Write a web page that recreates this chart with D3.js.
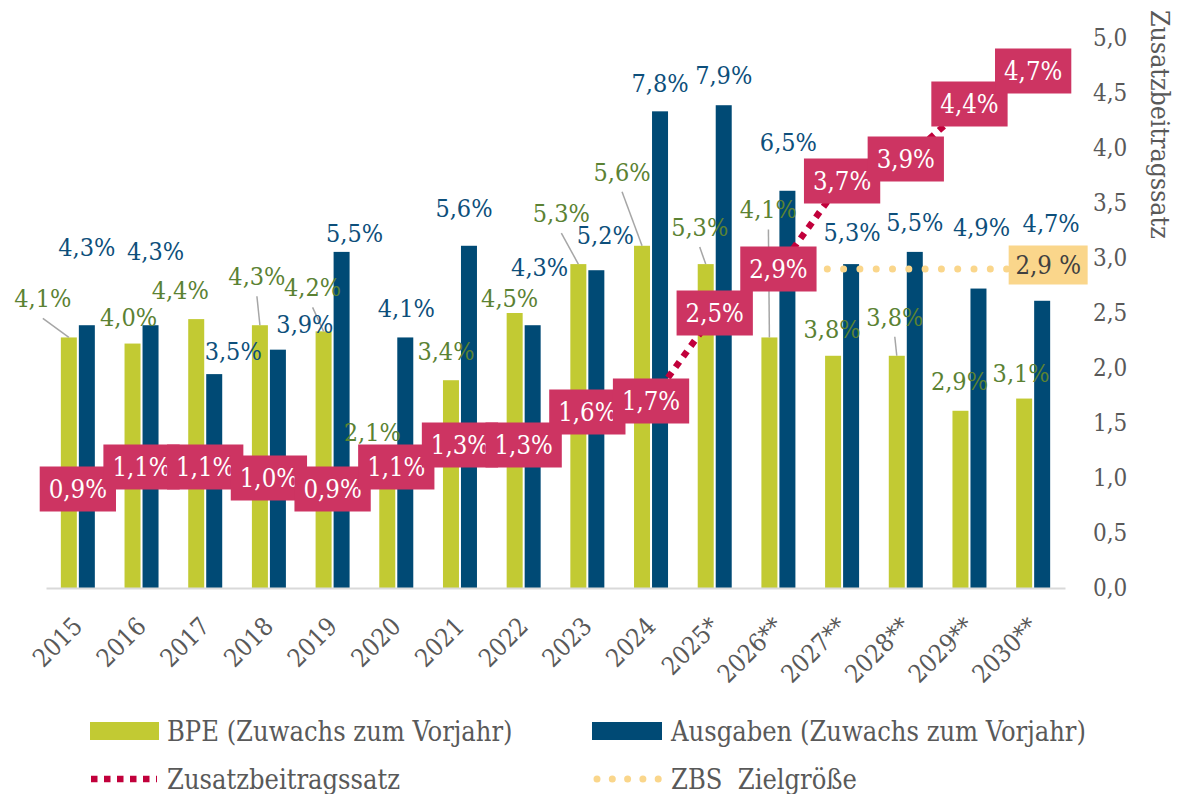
<!DOCTYPE html>
<html>
<head>
<meta charset="utf-8">
<script src="https://cdnjs.cloudflare.com/ajax/libs/d3/7.8.5/d3.min.js"></script>
<style>
  body { margin: 0; background: #ffffff; }
</style>
</head>
<body>
<main></main>
<script>
//the numbers
const years = ["2015","2016","2017","2018","2019","2020","2021","2022","2023","2024",
               "2025*","2026**","2027**","2028**","2029**","2030**"];
const bpe      = [4.1,4.0,4.4,4.3,4.2,2.1,3.4,4.5,5.3,5.6,5.3,4.1,3.8,3.8,2.9,3.1];
const ausgaben = [4.3,4.3,3.5,3.9,5.5,4.1,5.6,4.3,5.2,7.8,7.9,6.5,5.3,5.5,4.9,4.7];
const zbs      = [0.9,1.1,1.1,1.0,0.9,1.1,1.3,1.3,1.6,1.7,2.5,2.9,3.7,3.9,4.4,4.7];
const zielYears = ["2026**","2027**","2028**","2029**","2030**"];
const ziel      = [2.9,2.9,2.9,2.9,2.9];
const rightTicks = [0,0.5,1,1.5,2,2.5,3,3.5,4,4.5,5];

//hand-placed label nudges (dx, dy from the bar top), like the moved excel labels
const bpeShift = [[-26,-39],[-4,-27],[-16,-29],[-3,-49],[-11,-44],[-15,-28],[-5,-29],[-5,-15],
                  [-17,-51],[-20,-74],[-6,-37],[-1,-128],[-1,-27],[-2,-39],[-1,-30],[-3,-26]];
const ausShift = [[0,-78],[5,-74],[19,-23],[27,-26],[13,-19],[1,-29],[-5,-38],[7,-58],
                  [9,-35],[0,-28],[0,-30],[1,-49],[1,-32],[0,-30],[3,-62],[9,-78]];
const bpeLeader = [0,3,4,8,9,10,11,13];

const green = "#c2ca33", blue = "#004a75", pink = "#cd3462", red = "#c1003b", gold = "#fad68b";
const greenText = "#5b8233", blueText = "#0d4f7b", grey = "#595959";

const pct = v => v.toFixed(1).replace(".", ",") + "%";

const body = d3.select("main");
const svg = body.append("svg")
                .attr("width", 1184)
                .attr("height", 794);

//the original font is narrower than DejaVu Serif, try the condensed cut first
const probeW = fam => {
    const t = svg.append("text").style("font-family", fam).style("font-size", "100px").text("2015 4,3%");
    const w = t.node().getComputedTextLength();
    t.remove();
    return w;
};
let fam = '"DejaVu Serif Condensed", "DejaVu Serif"';
let k = 1;
if (probeW(fam) > 0.95 * probeW('"DejaVu Serif"')) {
    fam = '"Liberation Serif"';
    k = 1.14;
}
svg.style("font-family", fam);
const fs = n => (n * k) + "px";

const x = d3.scaleBand()
            .domain(years)
            .range([46, 1065]);
const bw = x.bandwidth();
const cx = d => x(d) + bw / 2;

//bars sit on a hidden 0-9% axis, the line on the visible 0-5 axis
const yLeft = d3.scaleLinear().domain([0, 9]).range([588, 38]);
const yRight = d3.scaleLinear().domain([0, 5]).range([588, 38]);

const barW = 16;

//bars
svg.selectAll(".bpe")
    .data(years)
    .join("rect")
    .attr("class", "bpe")
    .attr("x", d => cx(d) - barW - 1)
    .attr("y", (d, i) => yLeft(bpe[i]))
    .attr("width", barW)
    .attr("height", (d, i) => yLeft(0) - yLeft(bpe[i]))
    .attr("fill", green);

svg.selectAll(".aus")
    .data(years)
    .join("rect")
    .attr("class", "aus")
    .attr("x", d => cx(d) + 1)
    .attr("y", (d, i) => yLeft(ausgaben[i]))
    .attr("width", barW)
    .attr("height", (d, i) => yLeft(0) - yLeft(ausgaben[i]))
    .attr("fill", blue);

//x axis
const xAxis = svg.append("g")
    .attr("transform", "translate(0,588)")
    .call(d3.axisBottom(x).tickSize(0).tickSizeOuter(0).tickPadding(0))
    .attr("font-family", null);
xAxis.select(".domain")
    .attr("stroke", "#d9d9d9")
    .attr("stroke-width", 2);
xAxis.selectAll("text")
    .attr("text-anchor", "end")
    .attr("x", 6)
    .attr("y", 40)
    .attr("dy", 0)
    .attr("transform", "rotate(-45,6,40)")
    .attr("fill", grey)
    .style("font-size", fs(25));

//right axis
const yAxis = svg.append("g")
    .attr("transform", "translate(1065,0)")
    .call(d3.axisRight(yRight).tickValues(rightTicks).tickSize(0).tickPadding(28)
            .tickFormat(d => d.toFixed(1).replace(".", ",")))
    .attr("font-family", null);
yAxis.select(".domain").remove();
yAxis.selectAll("text")
    .attr("fill", grey)
    .style("font-size", fs(24));

svg.append("text")
    .text("Zusatzbeitragssatz")
    .attr("transform", "translate(1151,10) rotate(90)")
    .attr("fill", grey)
    .style("font-size", fs(26.5));

//lines
const zbsLine = d3.line()
    .x(d => cx(d))
    .y((d, i) => yRight(zbs[i]));
svg.append("path")
    .datum(years)
    .attr("d", zbsLine)
    .attr("fill", "none")
    .attr("stroke", red)
    .attr("stroke-width", 6.5)
    .attr("stroke-dasharray", "6.5,6.5");

const zielLine = d3.line()
    .x(d => cx(d))
    .y((d, i) => yRight(ziel[i]));
svg.append("path")
    .datum(zielYears)
    .attr("d", zielLine)
    .attr("fill", "none")
    .attr("stroke", gold)
    .attr("stroke-width", 7)
    .attr("stroke-linecap", "round")
    .attr("stroke-dasharray", "0,16.3");

//bar labels
const bpeX = i => cx(years[i]) - barW / 2 - 1 + bpeShift[i][0];
const bpeY = i => yLeft(bpe[i]) + bpeShift[i][1];

svg.selectAll(".leader")
    .data(bpeLeader)
    .join("line")
    .attr("class", "leader")
    .attr("x1", i => bpeX(i))
    .attr("y1", i => bpeY(i) + 20)
    .attr("x2", i => cx(years[i]) - barW / 2 - 1)
    .attr("y2", i => yLeft(bpe[i]))
    .attr("stroke", "#a6a6a6")
    .attr("stroke-width", 1.5);

svg.selectAll(".bpe-label")
    .data(bpe)
    .join("text")
    .attr("class", "bpe-label")
    .text(d => pct(d))
    .attr("text-anchor", "middle")
    .attr("dy", "0.36em")
    .attr("x", (d, i) => bpeX(i))
    .attr("y", (d, i) => bpeY(i))
    .attr("fill", greenText)
    .style("font-size", fs(25));

svg.selectAll(".aus-label")
    .data(ausgaben)
    .join("text")
    .attr("class", "aus-label")
    .text(d => pct(d))
    .attr("text-anchor", "middle")
    .attr("dy", "0.36em")
    .attr("x", (d, i) => cx(years[i]) + barW / 2 + 1 + ausShift[i][0])
    .attr("y", (d, i) => yLeft(ausgaben[i]) + ausShift[i][1])
    .attr("fill", blueText)
    .style("font-size", fs(25));

//pink boxes on the line, later ones on top
years.forEach((yr, i) => {
    const g = svg.append("g")
                 .attr("transform", `translate(${cx(yr)},${yRight(zbs[i])})`);
    const r = g.append("rect").attr("fill", pink);
    const t = g.append("text")
               .text(pct(zbs[i]))
               .attr("text-anchor", "middle")
               .attr("dy", "0.36em")
               .attr("fill", "#ffffff")
               .style("font-size", fs(25.5));
    const w = t.node().getComputedTextLength() + 18;
    r.attr("x", -w / 2).attr("y", -22.5).attr("width", w).attr("height", 45);
});

//target label
const last = zielYears.length - 1;
const zg = svg.append("g")
              .attr("transform", `translate(${cx(zielYears[last]) + 15},${yRight(ziel[last]) - 4})`);
zg.append("rect")
    .attr("x", -39.5).attr("y", -19.5)
    .attr("width", 79).attr("height", 39)
    .attr("fill", gold);
zg.append("text")
    .text(ziel[last].toFixed(1).replace(".", ",") + " %")
    .attr("text-anchor", "middle")
    .attr("dy", "0.36em")
    .attr("fill", "#404040")
    .style("font-size", fs(25.5));

//legend
const legend = svg.append("g");
legend.append("rect").attr("x", 90).attr("y", 722).attr("width", 69).attr("height", 18).attr("fill", green);
legend.append("rect").attr("x", 592).attr("y", 722).attr("width", 70).attr("height", 18).attr("fill", blue);
legend.append("line")
    .attr("x1", 91).attr("x2", 157).attr("y1", 779).attr("y2", 779)
    .attr("stroke", red).attr("stroke-width", 6.5).attr("stroke-dasharray", "6.5,6.5");
legend.append("line")
    .attr("x1", 597).attr("x2", 662).attr("y1", 779).attr("y2", 779)
    .attr("stroke", gold).attr("stroke-width", 7)
    .attr("stroke-linecap", "round").attr("stroke-dasharray", "0,15.3");

const legendItems = [
    {t: "BPE (Zuwachs zum Vorjahr)", x: 167, y: 731},
    {t: "Ausgaben (Zuwachs zum Vorjahr)", x: 671, y: 731},
    {t: "Zusatzbeitragssatz", x: 167, y: 779},
    {t: "ZBS  Zielgröße", x: 671, y: 779}
];
legend.selectAll("text")
    .data(legendItems)
    .join("text")
    .text(d => d.t)
    .attr("x", d => d.x)
    .attr("y", d => d.y)
    .attr("dy", "0.36em")
    .attr("fill", grey)
    .style("white-space", "pre")
    .style("font-size", fs(27));
</script>
</body>
</html>
